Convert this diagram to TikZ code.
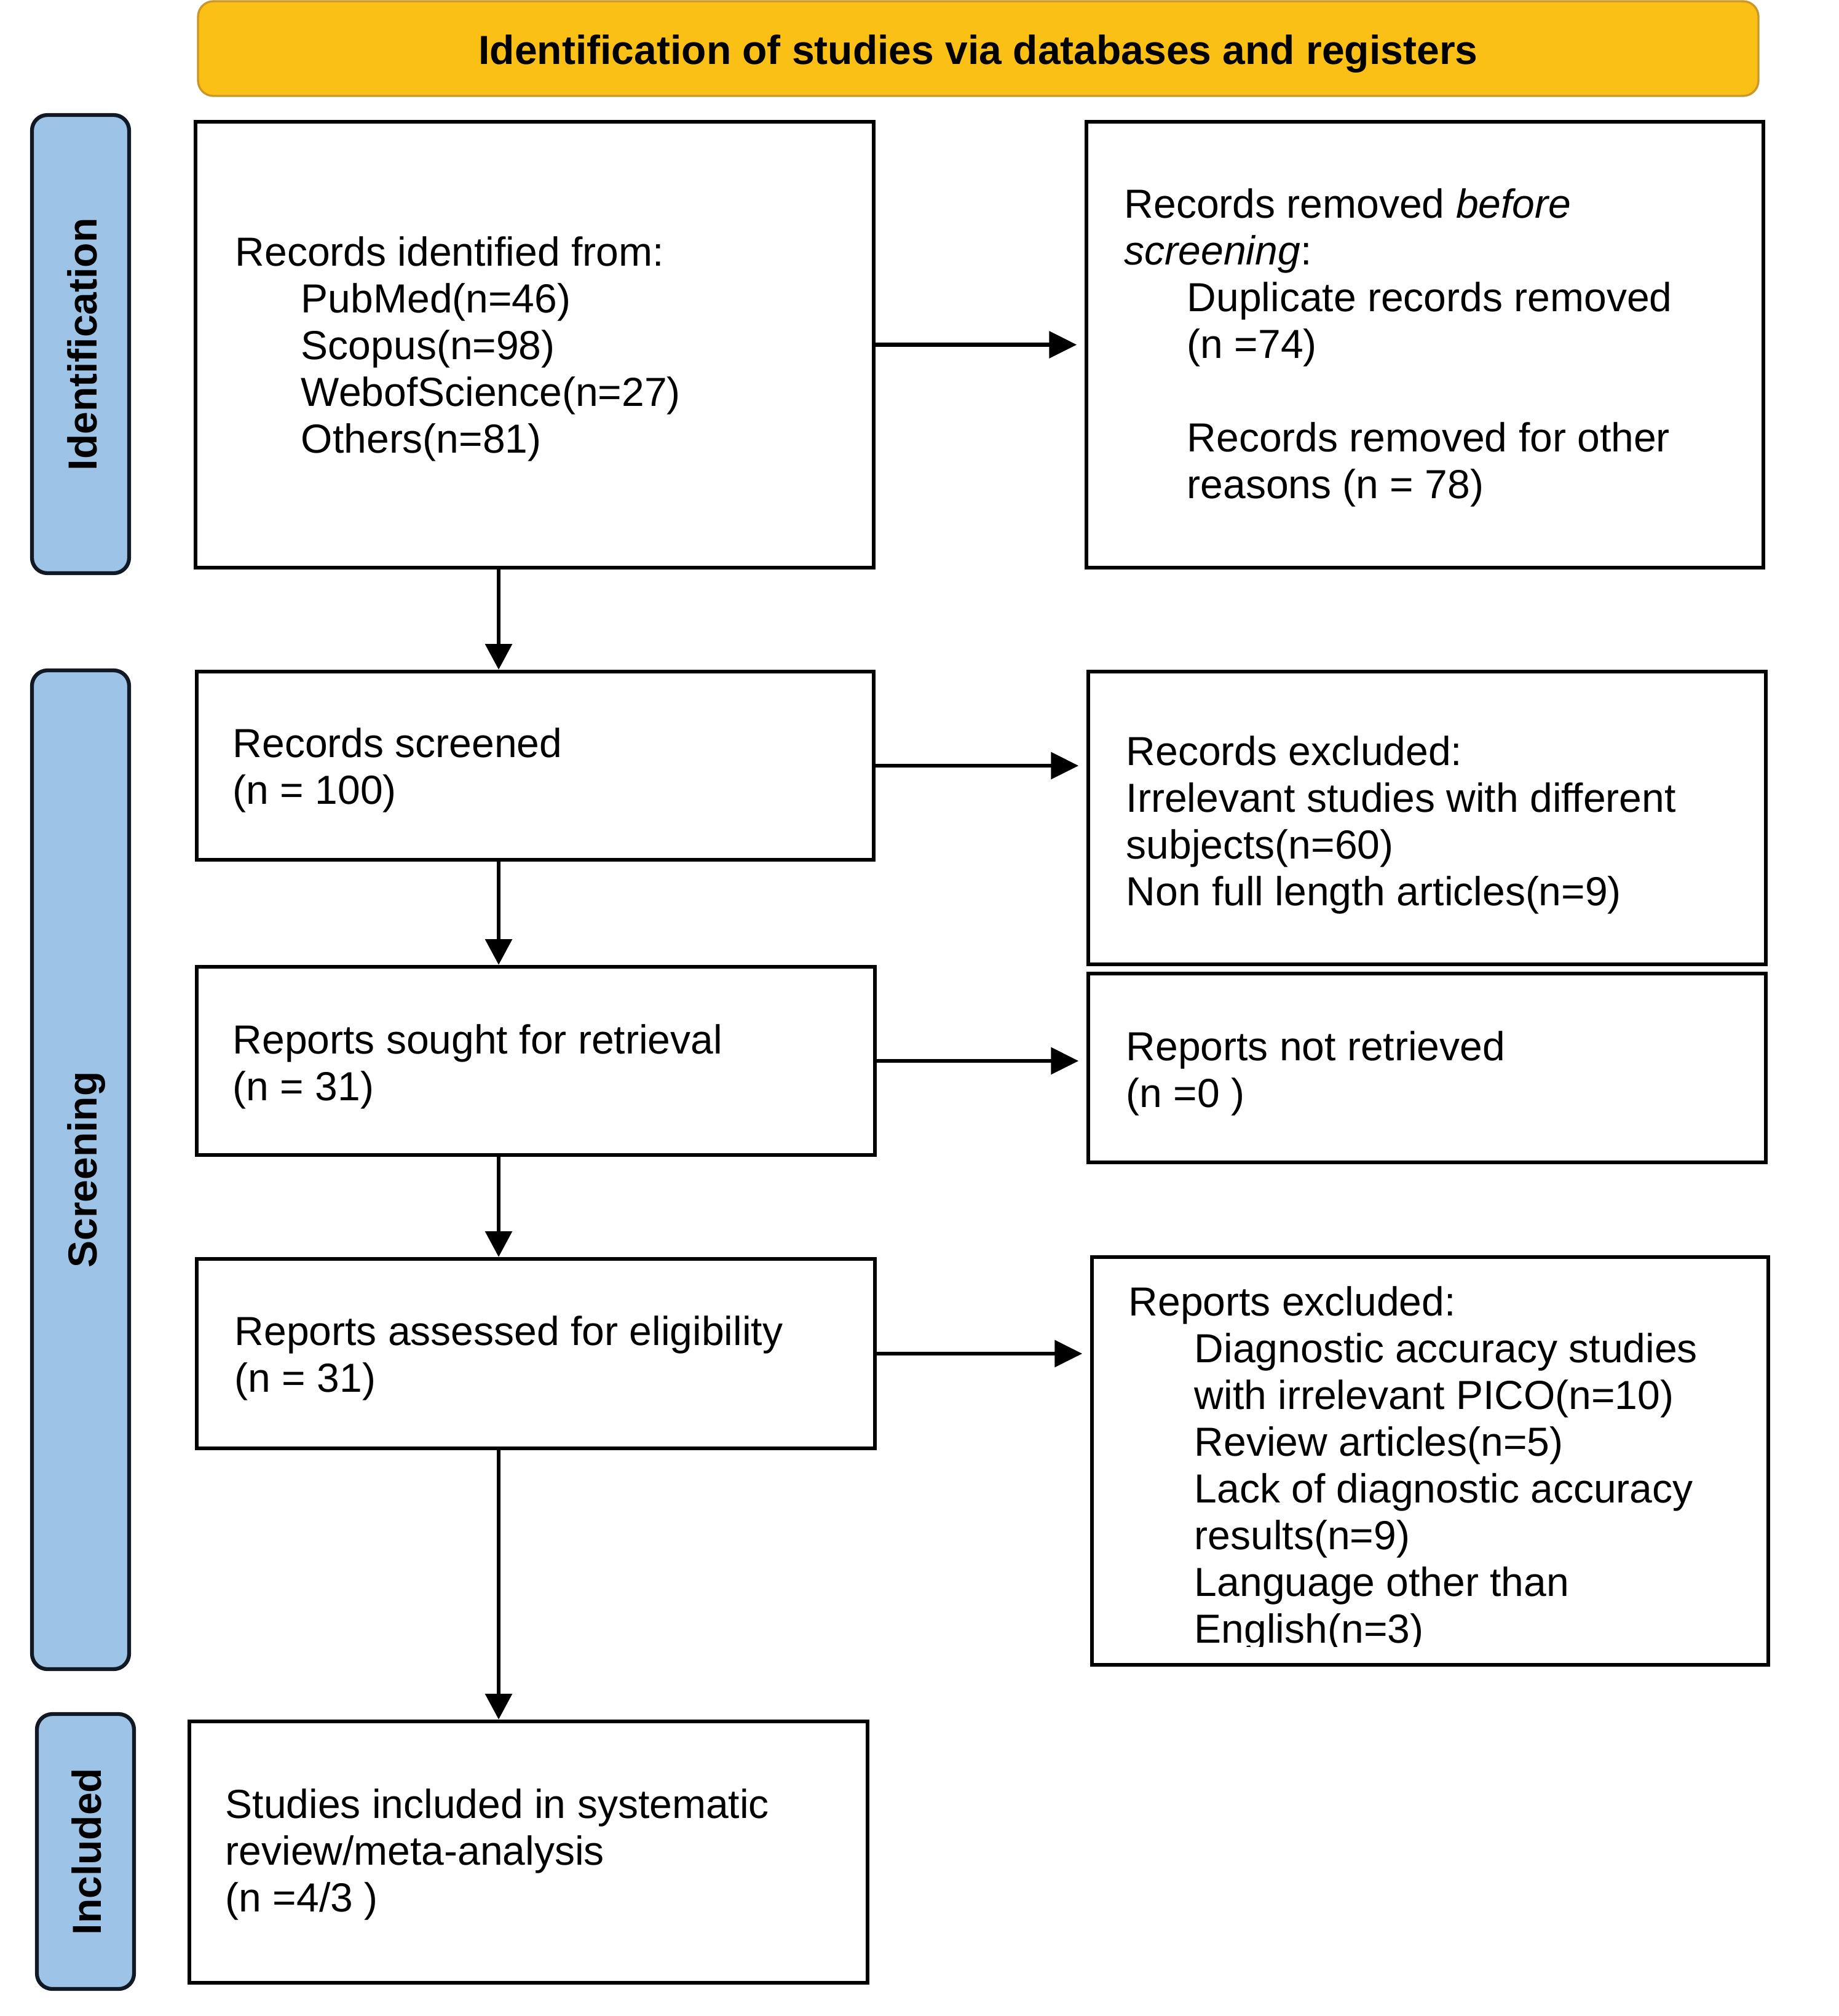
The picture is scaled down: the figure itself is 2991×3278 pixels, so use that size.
\documentclass[tikz,border=0pt]{standalone}
\usepackage{fontspec}
\setmainfont{Liberation Sans}
\usetikzlibrary{arrows.meta}
\definecolor{banfill}{HTML}{FBC015}
\definecolor{banline}{HTML}{C9962B}
\definecolor{barfill}{HTML}{9DC3E6}
\definecolor{barline}{HTML}{111A24}
\newcommand{\mytxtsize}{\fontsize{15.84pt}{18.24pt}\selectfont}
\begin{document}
\begin{tikzpicture}[x=0.24pt,y=-0.24pt,
  box/.style={draw=black, line width=1.55pt, fill=white, inner sep=0pt},
  phasebar/.style={draw=barline, line width=1.5pt, fill=barfill, rounded corners=6pt, inner sep=0pt, minimum width=37.92pt},
  banner/.style={draw=banline, line width=0.8pt, fill=banfill, rounded corners=6pt, inner sep=0pt},
  txt/.style={anchor=base west, align=left, inner sep=0pt, font=\mytxtsize},
  sidelab/.style={anchor=base, rotate=90, inner sep=0pt, font=\mytxtsize\bfseries},
  harrow/.style={line width=1.6pt, -{Triangle[length=10.8pt,width=10.3pt]}, shorten >=3pt},
  varrow/.style={line width=1.5pt, -{Triangle[length=10pt,width=10.3pt]}}
]
\useasboundingbox (0,0) rectangle (2991,3278);

% banner
\node[banner, minimum width=609.12pt, minimum height=36.96pt] (ban) at (1591,79) {};
\node[anchor=base, inner sep=0pt, font=\mytxtsize\bfseries] (bantxt) at (1591,104) {Identification of studies via databases and registers};

% phase bars
\node[phasebar, minimum height=178.8pt] (pid) at (131,559.5) {};
\node[sidelab] (pidt) at (157,560) {Identification};
\node[phasebar, minimum height=389.76pt] (psc) at (131,1902) {};
\node[sidelab] (psct) at (157,1902) {Screening};
\node[phasebar, minimum height=107.28pt] (pin) at (139,3010.5) {};
\node[sidelab] (pint) at (165,3010.5) {Included};

% left column boxes
\node[box, minimum width=264.72pt, minimum height=174pt] (b1) at (869.5,560.5) {};
\node[box, minimum width=264.24pt, minimum height=73.44pt] (b2) at (870.5,1245) {};
\node[box, minimum width=264.72pt, minimum height=73.44pt] (b3) at (871.5,1725) {};
\node[box, minimum width=264.72pt, minimum height=73.92pt] (b4) at (871.5,2201) {};
\node[box, minimum width=264.72pt, minimum height=102pt] (b5) at (859.5,3011.5) {};

% right column boxes
\node[box, minimum width=264.24pt, minimum height=174pt] (r1) at (2317.5,560.5) {};
\node[box, minimum width=264.48pt, minimum height=114.24pt] (r2) at (2321,1330) {};
\node[box, minimum width=264.48pt, minimum height=73.68pt] (r3) at (2321,1736.5) {};
\node[box, minimum width=264pt, minimum height=159.12pt] (r4) at (2326,2375.5) {};

% texts (base anchor = baseline of the last line)
\node[txt] (t1) at (382,736) {Records identified from:\\
\hspace*{25.7pt}PubMed(n=46)\\
\hspace*{25.7pt}Scopus(n=98)\\
\hspace*{25.7pt}WebofScience(n=27)\\
\hspace*{25.7pt}Others(n=81)};
\node[txt] (rt1) at (1828,810) {Records removed \textit{before}\\
\textit{screening}:\\
\hspace*{24.5pt}Duplicate records removed\\
\hspace*{24.5pt}(n =74)\\
\mbox{}\\
\hspace*{24.5pt}Records removed for other\\
\hspace*{24.5pt}reasons (n = 78)};
\node[txt] (t2) at (378,1307) {Records screened\\(n = 100)};
\node[txt] (rt2) at (1831,1472) {Records excluded:\\Irrelevant studies with different\\subjects(n=60)\\Non full length articles(n=9)};
\node[txt] (t3) at (378,1789) {Reports sought for retrieval\\(n = 31)};
\node[txt] (rt3) at (1831,1800) {Reports not retrieved\\(n =0 )};
\node[txt] (t4) at (381,2263) {Reports assessed for eligibility\\(n = 31)};
\begin{scope}
\clip (1776,2044) rectangle (2876,2677);
\node[txt] (rt4) at (1835,2671) {Reports excluded:\\
\hspace*{25.7pt}Diagnostic accuracy studies\\
\hspace*{25.7pt}with irrelevant PICO(n=10)\\
\hspace*{25.7pt}Review articles(n=5)\\
\hspace*{25.7pt}Lack of diagnostic accuracy\\
\hspace*{25.7pt}results(n=9)\\
\hspace*{25.7pt}Language other than\\
\hspace*{25.7pt}English(n=3)};
\end{scope}
\node[txt] (t5) at (366,3108) {Studies included in systematic\\review/meta-analysis\\(n =4/3 )};

% connectors
\coordinate (vx) at (811,0);
\draw[varrow] (b1.south -| vx) -- (b2.north -| vx);
\draw[varrow] (b2.south -| vx) -- (b3.north -| vx);
\draw[varrow] (b3.south -| vx) -- (b4.north -| vx);
\draw[varrow] (b4.south -| vx) -- (b5.north -| vx);
\draw[harrow] (b1.east) -- (r1.west |- b1.east);
\draw[harrow] (b2.east) -- (r2.west |- b2.east);
\draw[harrow] (b3.east) -- (r3.west |- b3.east);
\draw[harrow] (b4.east) -- (r4.west |- b4.east);
\end{tikzpicture}
\end{document}
